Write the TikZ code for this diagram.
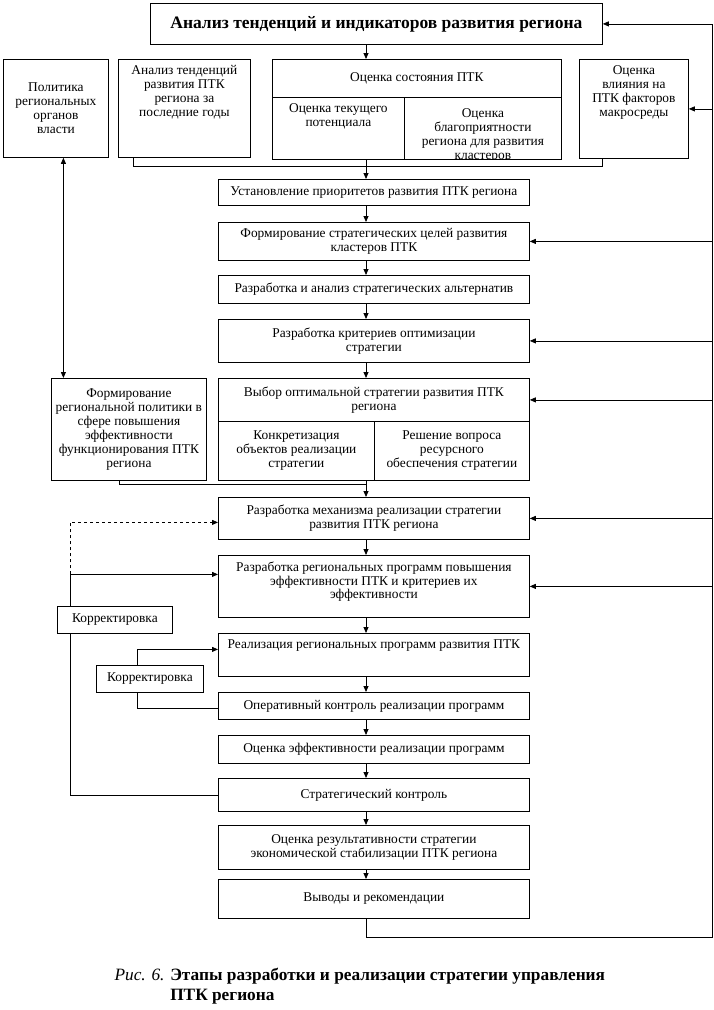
\documentclass[tikz,border=0pt]{standalone}
\usepackage{fontspec}
\setmainfont{Liberation Serif}
\usepackage{tikz}
\usetikzlibrary{arrows.meta}

\newcommand{\bodyfont}{\fontsize{13.4}{14}\selectfont}
\newcommand{\toptext}[3]{\parbox[c][#1][t]{#2}{\centering\vspace*{3pt}#3}}

\begin{document}
\begin{tikzpicture}[
    x=1pt, y=-1pt,
    box/.style={draw, line width=0.8pt, anchor=north west, align=center, inner sep=3pt, font=\bodyfont},
    col/.style={box, minimum width=311pt},
    arr/.style={line width=0.8pt, -{Triangle[length=6pt,width=5pt]}},
    arrs/.style={line width=0.8pt, {Triangle[length=6pt,width=5pt]}-{Triangle[length=6pt,width=5pt]}},
    link/.style={line width=0.8pt}
]
\path[use as bounding box, fill=white] (0,0) rectangle (713,1010);

% top row
\node[box, minimum width=452pt, minimum height=41pt, font=\fontsize{17.5}{20}\selectfont\bfseries] (title) at (150,3) {Анализ тенденций и индикаторов развития региона};
\node[box, minimum width=105pt, minimum height=98pt] (pol) at (3,59) {Политика\\региональных\\органов\\власти};
\node[box] (antr) at (118,59) {\toptext{92pt}{126pt}{Анализ тенденций\\развития ПТК\\региона за\\последние годы}};
\node[box, minimum width=289pt, minimum height=38pt] (osthd) at (272,59) {Оценка состояния ПТК};
\node[box] (ostcur) at (272,97) {\toptext{56pt}{126pt}{Оценка текущего\\потенциала}};
\node[box, minimum width=157pt, minimum height=62pt,
    path picture={\node[anchor=north, align=center, font=\bodyfont] at ([yshift=-7pt]path picture bounding box.north) {Оценка\\благоприятности\\региона для развития\\кластеров};}] (ostfav) at (404,97) {};
\node[box] (vli) at (579,59) {\toptext{93pt}{103pt}{Оценка\\влияния на\\ПТК факторов\\макросреды}};

% main column
\node[col, minimum height=26pt] (ust) at (218,179) {Установление приоритетов развития ПТК региона};
\node[col, minimum height=38pt] (cel) at (218,222) {Формирование стратегических целей развития\\кластеров ПТК};
\node[col, minimum height=28pt] (alt) at (218,275) {Разработка и анализ стратегических альтернатив};
\node[col, minimum height=43pt] (krit) at (218,319) {Разработка критериев оптимизации\\стратегии};
\node[col, minimum height=43pt] (vyb) at (218,378) {Выбор оптимальной стратегии развития ПТК\\региона};
\node[box, minimum width=156pt, minimum height=59pt] (vybL) at (218,421) {Конкретизация\\объектов реализации\\стратегии};
\node[box, minimum width=155pt, minimum height=59pt] (vybR) at (374,421) {Решение вопроса\\ресурсного\\обеспечения стратегии};
\node[col, minimum height=42pt] (mech) at (218,497) {Разработка механизма реализации стратегии\\развития ПТК региона};
\node[box] (prog) at (218,555) {\toptext{56pt}{305pt}{Разработка региональных программ повышения\\эффективности ПТК и критериев их\\эффективности}};
\node[box] (real) at (218,633) {\toptext{37pt}{305pt}{Реализация региональных программ развития ПТК}};
\node[col, minimum height=27pt] (oper) at (218,692) {Оперативный контроль реализации программ};
\node[col, minimum height=28pt] (eff) at (218,735) {Оценка эффективности реализации программ};
\node[col, minimum height=33pt] (strk) at (218,778) {Стратегический контроль};
\node[col, minimum height=44pt] (rez) at (218,825) {Оценка результативности стратегии\\экономической стабилизации ПТК региона};
\node[col, minimum height=39pt] (vyv) at (218,879) {Выводы и рекомендации};

% left side
\node[box, minimum width=155pt, minimum height=102pt] (polf) at (51,378) {Формирование\\региональной политики в\\сфере повышения\\эффективности\\функционирования ПТК\\региона};
\node[box, minimum width=115pt, minimum height=27pt] (kor1) at (57,606) {Корректировка};
\node[box, minimum width=107pt, minimum height=27pt] (kor2) at (96,665) {Корректировка};

% caption
\node[anchor=north west, align=left, font=\fontsize{17.3}{20}\selectfont] (cap) at (111,965)
    {\textit{Рис. 6.} \textbf{Этапы разработки и реализации стратегии управления}\\
     \phantom{\textit{Рис. 6.} }\textbf{ПТК региона}};

\coordinate (spine) at (366,0);
\coordinate (rgt) at (712,0);
\coordinate (kx) at ([xshift=-44.5pt]kor1.north);

% arrows down the column
\draw[arr] (title.south -| spine) -- (osthd.north -| spine);
\draw[arr] (ostcur.south -| spine) -- (ust.north -| spine);
\foreach \a/\b in {ust/cel, cel/alt, alt/krit, krit/vyb, vybL/mech, mech/prog, prog/real, real/oper, oper/eff, eff/strk, strk/rez, rez/vyv}
    \draw[arr] (\a.south -| spine) -- (\b.north -| spine);

% bracket under the second row
\draw[link] ([xshift=-51pt]antr.south) -- ++(0,9) -| ([xshift=-31.5pt]vli.south);
\draw[link] ([xshift=-9.5pt]polf.south) -- ++(0,4) coordinate (pj) -- (pj -| spine);
\draw[arrs] ([xshift=7.5pt]pol.south) -- ([xshift=7.5pt]pol.south |- polf.north);

% feedback on the right
\draw[arr] (vyv.south -| spine) -- ++(0,19) -| (title.east -| rgt) -- (title.east);
\foreach \n in {vli, cel, krit, vyb, mech, prog}
    \draw[arr] (\n.east -| rgt) -- (\n.east);

% corrections on the left
\draw[link] (strk.west) -| ([xshift=-44.5pt]kor1.south);
\draw[arr] (kx) |- ([yshift=12pt]prog.west);
\draw[arr, dashed] ([yshift=12pt]prog.west -| kx) |- ([yshift=-4pt]mech.west);
\draw[arr] ([xshift=-12.5pt]kor2.north) |- ([yshift=5.5pt]real.west);
\draw[link] ([xshift=-12.5pt]kor2.south) |- ([yshift=-2.5pt]oper.west);
\end{tikzpicture}
\end{document}
